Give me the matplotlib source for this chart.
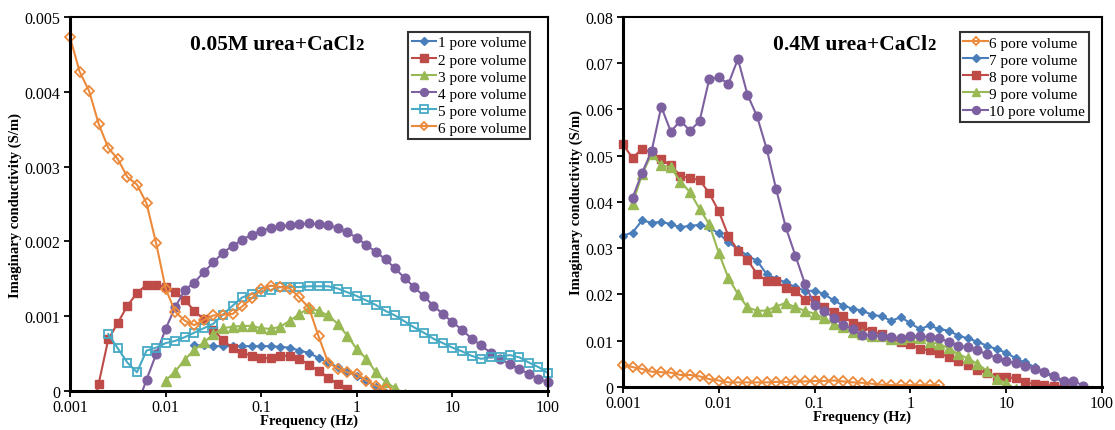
import matplotlib
matplotlib.use("Agg")
import matplotlib.pyplot as plt
import numpy as np
from matplotlib.offsetbox import AnchoredOffsetbox, HPacker, TextArea
from matplotlib.patches import Rectangle
from matplotlib.ticker import FixedLocator, FixedFormatter, NullLocator

plt.rcParams["font.family"] = ["Liberation Serif", "DejaVu Serif"]

# frequency sweep: 10 points per decade, 0.001 Hz .. 100 Hz
freq = np.logspace(-3, 2, 51)

# ---- 0.05M urea + CaCl2 (values in mS/m), start index into freq
pv1_start = 13
pv1 = [0.61, 0.61, 0.60, 0.60, 0.60, 0.60, 0.60, 0.60, 0.60, 0.59, 0.58, 0.54,
       0.51, 0.44, 0.38, 0.32, 0.26, 0.20, 0.14, 0.05, -0.03]
pv2_start = 2
pv2 = [-0.5, 0.10, 0.69, 0.91, 1.14, 1.31, 1.42, 1.42, 1.39, 1.33, 1.22, 1.07,
       0.96, 0.82, 0.68, 0.57, 0.51, 0.47, 0.44, 0.44, 0.47, 0.47, 0.43, 0.35,
       0.27, 0.18, 0.09, 0.02, -0.08]
pv3_start = 10
pv3 = [0.14, 0.26, 0.42, 0.55, 0.65, 0.76, 0.84, 0.86, 0.87, 0.87, 0.84, 0.83,
       0.86, 0.94, 1.03, 1.11, 1.07, 1.01, 0.90, 0.74, 0.56, 0.43, 0.25, 0.12,
       0.04, -0.04]
pv4_start = 7
pv4 = [-0.2, 0.15, 0.49, 0.83, 1.12, 1.35, 1.45, 1.59, 1.72, 1.85, 1.94, 2.02,
       2.09, 2.14, 2.18, 2.20, 2.22, 2.23, 2.24, 2.23, 2.22, 2.18, 2.12, 2.05,
       1.95, 1.86, 1.76, 1.64, 1.51, 1.39, 1.27, 1.14, 1.03, 0.92, 0.82, 0.70,
       0.61, 0.51, 0.43, 0.36, 0.29, 0.23, 0.16, 0.12]
pv5_start = 4
pv5 = [0.76, 0.57, 0.38, 0.25, 0.54, 0.58, 0.64, 0.67, 0.72, 0.78, 0.84, 0.90,
       1.02, 1.14, 1.25, 1.30, 1.33, 1.35, 1.39, 1.39, 1.39, 1.40, 1.40, 1.40,
       1.37, 1.32, 1.27, 1.21, 1.15, 1.07, 1.01, 0.93, 0.85, 0.78, 0.70, 0.64,
       0.58, 0.53, 0.47, 0.43, 0.45, 0.46, 0.48, 0.45, 0.38, 0.32, 0.24]
pv6_start = 0
pv6 = [4.73, 4.27, 4.01, 3.57, 3.25, 3.10, 2.86, 2.76, 2.51, 1.98, 1.37, 1.06,
       0.94, 0.88, 0.95, 1.01, 1.02, 1.03, 1.13, 1.24, 1.36, 1.41, 1.39, 1.37,
       1.25, 1.11, 0.73, 0.38, 0.30, 0.25, 0.23, 0.14, 0.07, 0.02]

# ---- 0.4M urea + CaCl2 (values in units of 0.01 S/m)
hi6_start = 0
hi6 = [0.48, 0.43, 0.39, 0.33, 0.32, 0.31, 0.26, 0.26, 0.23, 0.17, 0.14, 0.10,
       0.10, 0.10, 0.10, 0.10, 0.11, 0.11, 0.12, 0.12, 0.13, 0.13, 0.14, 0.12,
       0.10, 0.09, 0.07, 0.05, 0.04, 0.04, 0.04, 0.04, 0.04, 0.04]
hi7_start = 0
hi7 = [3.27, 3.34, 3.60, 3.55, 3.57, 3.52, 3.45, 3.49, 3.50, 3.45, 3.32, 3.13,
       2.98, 2.84, 2.73, 2.44, 2.34, 2.26, 2.16, 2.08, 2.08, 2.01, 1.87, 1.76,
       1.69, 1.65, 1.56, 1.53, 1.43, 1.51, 1.38, 1.25, 1.33, 1.25, 1.22, 1.11,
       1.05, 0.98, 0.89, 0.82, 0.74, 0.62, 0.53, 0.43, 0.30, 0.21, 0.10, 0.03]
hi8_start = 0
hi8 = [5.25, 4.95, 5.15, 5.07, 4.92, 4.79, 4.57, 4.51, 4.48, 4.19, 3.80, 3.27,
       2.95, 2.75, 2.44, 2.30, 2.30, 2.13, 2.08, 1.89, 1.87, 1.74, 1.63, 1.53,
       1.38, 1.31, 1.20, 1.15, 1.04, 0.98, 0.93, 0.82, 0.79, 0.74, 0.64, 0.57,
       0.48, 0.37, 0.30, 0.21, 0.21, 0.19, 0.10, 0.06, 0.04, 0.03, 0.02]
hi9_start = 1
hi9 = [3.96, 4.60, 5.04, 4.79, 4.75, 4.44, 4.21, 3.85, 3.52, 2.90, 2.36, 2.01,
       1.72, 1.65, 1.65, 1.74, 1.82, 1.72, 1.65, 1.58, 1.49, 1.36, 1.29, 1.18,
       1.15, 1.11, 1.10, 1.04, 1.04, 1.07, 1.05, 0.98, 0.93, 0.84, 0.71, 0.62,
       0.50, 0.35, 0.17, 0.09, -0.05]
hi10_start = 1
hi10 = [4.09, 4.63, 5.11, 6.06, 5.52, 5.76, 5.54, 5.75, 6.65, 6.70, 6.55, 7.09,
        6.32, 5.85, 5.15, 4.27, 3.45, 2.84, 2.23, 1.77, 1.65, 1.49, 1.34, 1.25,
        1.12, 1.12, 1.10, 1.07, 1.05, 1.10, 1.10, 1.07, 1.05, 0.98, 0.89, 0.86,
        0.79, 0.71, 0.63, 0.57, 0.51, 0.46, 0.39, 0.33, 0.24, 0.14, 0.14, 0.03]

BLUE = "#4A7EBB"
RED = "#BE4B48"
GREEN = "#98B954"
PURPLE = "#7D60A0"
CYAN = "#46AAC5"
ORANGE = "#EC8A3C"

styles = {
    1: dict(color=BLUE, marker="D", ms=4.2),
    2: dict(color=RED, marker="s", ms=5.8),
    3: dict(color=GREEN, marker="^", ms=6.5),
    4: dict(color=PURPLE, marker="o", ms=6.3),
    5: dict(color=CYAN, marker="s", ms=6.3, mfc="none", mew=1.3),
    6: dict(color=ORANGE, marker="D", ms=4.8, mfc="none", mew=1.3),
}


def draw(ax, start, vals, scale, label, style):
    x = freq[start:start + len(vals)]
    y = np.array(vals) * scale
    line, = ax.plot(x, y, lw=1.5, label=label, **style)
    # keep markers on the left/right edges whole, but cut everything below y=0
    clip = Rectangle((-0.03, 0), 1.06, 1.03, transform=ax.transAxes)
    line.set_clip_path(clip)


def decorate(ax, ymax, yticks, ytick_labels, title, title_x):
    ax.set_xscale("log")
    ax.set_xlim(0.001, 100)
    ax.set_ylim(0, ymax)
    ax.xaxis.set_major_locator(FixedLocator([0.001, 0.01, 0.1, 1, 10, 100]))
    ax.xaxis.set_major_formatter(FixedFormatter(["0.001", "0.01", "0.1", "1", "10", "100"]))
    ax.xaxis.set_minor_locator(NullLocator())
    ax.yaxis.set_major_locator(FixedLocator(yticks))
    ax.yaxis.set_major_formatter(FixedFormatter(ytick_labels))
    ax.tick_params(axis="both", direction="out", length=4, width=1.3,
                   labelsize=11.5, colors="black", pad=3)
    ax.tick_params(axis="x", pad=2)
    for side in ["left", "bottom"]:
        ax.spines[side].set_linewidth(2.2)
    for side in ["top", "right"]:
        ax.spines[side].set_linewidth(1.5)
    ax.set_xlabel("Frequency (Hz)", fontsize=10.5, fontweight="bold", labelpad=-1)
    ax.set_ylabel("Imaginary conductivity (S/m)", fontsize=10.5, fontweight="bold",
                  labelpad=2)

    head = TextArea(title, textprops=dict(fontsize=15.5, fontweight="bold"))
    sub = TextArea("2", textprops=dict(fontsize=12, fontweight="bold"))
    box = HPacker(children=[head, sub], align="baseline", pad=0, sep=0)
    anchored = AnchoredOffsetbox(loc="center left", child=box, frameon=False,
                                 pad=0, borderpad=0,
                                 bbox_to_anchor=(title_x, 0.928),
                                 bbox_transform=ax.transAxes)
    ax.add_artist(anchored)


fig = plt.figure(figsize=(11.15, 4.31), dpi=100)
ax1 = fig.add_axes([0.0628, 0.0905, 0.4287, 0.8677])
ax2 = fig.add_axes([0.5587, 0.0998, 0.4296, 0.8585])

# left panel
for n, start, vals in [(1, pv1_start, pv1), (2, pv2_start, pv2), (3, pv3_start, pv3),
                       (4, pv4_start, pv4), (5, pv5_start, pv5), (6, pv6_start, pv6)]:
    draw(ax1, start, vals, 0.001, f"{n} pore volume", styles[n])

decorate(ax1, 0.005, [0, 0.001, 0.002, 0.003, 0.004, 0.005],
         ["0", "0.001", "0.002", "0.003", "0.004", "0.005"],
         "0.05M urea+CaCl", 0.251)

# right panel
for n, sty, start, vals in [(6, styles[6], hi6_start, hi6), (7, styles[1], hi7_start, hi7),
                            (8, styles[2], hi8_start, hi8), (9, styles[3], hi9_start, hi9),
                            (10, styles[4], hi10_start, hi10)]:
    draw(ax2, start, vals, 0.01, f"{n} pore volume", sty)

decorate(ax2, 0.08, [0, 0.01, 0.02, 0.03, 0.04, 0.05, 0.06, 0.07, 0.08],
         ["0", "0.01", "0.02", "0.03", "0.04", "0.05", "0.06", "0.07", "0.08"],
         "0.4M urea+CaCl", 0.313)

for ax, anchor in [(ax1, (0.962, 0.960)), (ax2, (0.973, 0.959))]:
    leg = ax.legend(loc="upper right", bbox_to_anchor=anchor, fontsize=11,
                    frameon=True, fancybox=False, edgecolor="black",
                    handlelength=1.6, handletextpad=0.1, labelspacing=0.22,
                    borderpad=0.25, borderaxespad=0, markerscale=0.9)
    leg.get_frame().set_linewidth(1.5)

fig.savefig("out.png", dpi=100)
